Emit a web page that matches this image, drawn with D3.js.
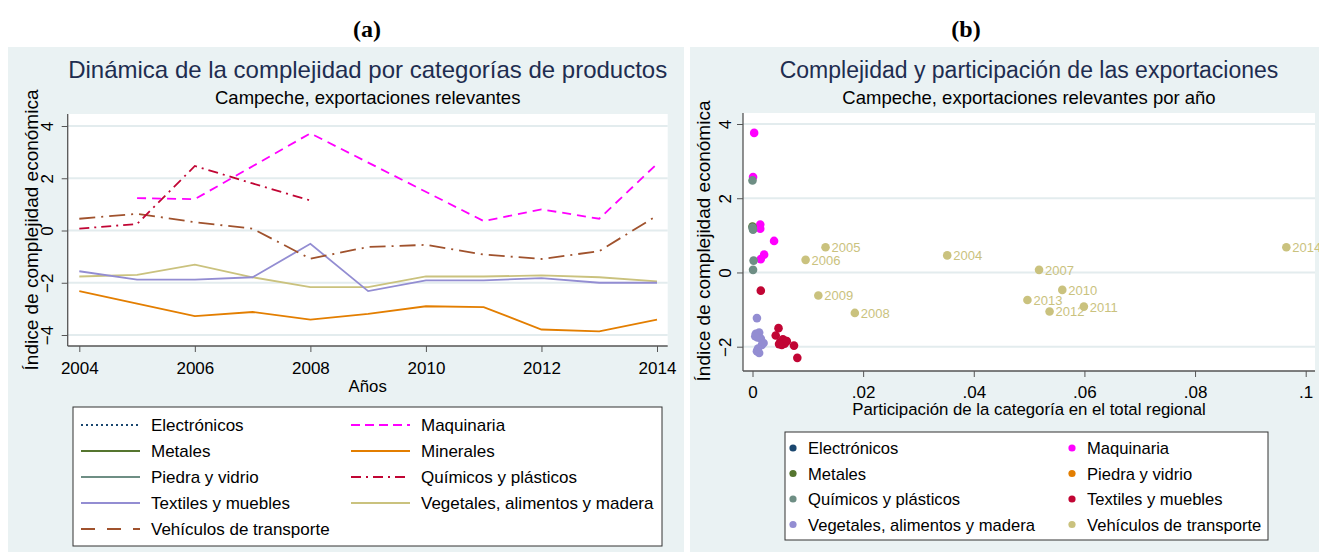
<!DOCTYPE html>
<html>
<head>
<meta charset="utf-8">
<script src="https://cdn.jsdelivr.net/npm/d3@7"></script>
<style>
  body { margin: 0; background: #fff; }
  text { font-family: "Liberation Sans", Arial, sans-serif; }
</style>
</head>
<body>
<svg id="chart" width="1319" height="552"></svg>
<script>
// ---- panel (a): ICE by year and category (null = no data that year)
var years = [2004, 2005, 2006, 2007, 2008, 2009, 2010, 2011, 2012, 2013, 2014];
var lineNames = ["Electrónicos", "Maquinaria", "Metales", "Minerales", "Piedra y vidrio",
  "Químicos y plásticos", "Textiles y muebles", "Vegetales, alimentos y madera", "Vehículos de transporte"];
var electronicos = [null, null, null, null, null, null, null, null, null, null, null];
var maquinaria = [null, 1.24, 1.20, null, 3.72, null, null, 0.36, 0.81, 0.45, 2.55];
var metales = [null, null, null, null, null, null, null, null, null, null, null];
var minerales = [-2.32, -2.80, -3.28, -3.12, -3.41, -3.19, -2.90, -2.93, -3.79, -3.86, -3.41];
var piedra = [null, null, null, null, null, null, null, null, null, null, null];
var quimicos = [0.07, 0.25, 2.47, 1.80, 1.15, null, null, null, null, null, null];
var textiles = [-1.56, -1.88, -1.88, -1.79, -0.51, -2.32, -1.91, -1.91, -1.82, -2.00, -2.00];
var vegetales = [-1.76, -1.70, -1.31, -1.79, -2.17, -2.17, -1.76, -1.76, -1.72, -1.79, -1.95];
var vehiculos = [0.45, 0.64, 0.32, 0.07, -1.08, -0.63, -0.55, -0.92, -1.09, -0.79, 0.57];
var yTicksA = [-4, -2, 0, 2, 4];
var xTicksA = [2004, 2006, 2008, 2010, 2012, 2014];

// ---- panel (b): [share of regional total, ICE]
var scatNames = ["Electrónicos", "Maquinaria", "Metales", "Piedra y vidrio",
  "Químicos y plásticos", "Textiles y muebles", "Vegetales, alimentos y madera", "Vehículos de transporte"];
var scElectronicos = [];
var scMaquinaria = [[0.0003, 3.76], [0.0001, 2.57], [0.0014, 1.29], [0.0014, 1.18], [0.0039, 0.85], [0.0021, 0.48], [0.0015, 0.36]];
var scMetales = [[0.0000, 1.24]];
var scPiedra = [];
var scQuimicos = [[0.0000, 2.48], [0.0000, 1.21], [0.0001, 1.15], [0.0002, 0.32], [0.0001, 0.07]];
var scTextiles = [[0.0047, -1.50], [0.0042, -1.70], [0.0050, -1.88], [0.0055, -1.80], [0.0015, -0.49], [0.0081, -2.30],
  [0.0058, -1.92], [0.0053, -1.95], [0.0062, -1.85], [0.0075, -1.97], [0.0048, -1.93]];
var scVegetales = [[0.0008, -1.23], [0.0006, -1.65], [0.0012, -1.62], [0.0009, -1.75], [0.0015, -1.78], [0.0020, -1.90],
  [0.0017, -1.95], [0.0010, -2.05], [0.0008, -2.12], [0.0012, -2.17], [0.0005, -1.72]];
var scVehiculos = [[0.0352, 0.46], [0.0132, 0.68], [0.0096, 0.34], [0.0518, 0.07], [0.0185, -1.09], [0.0119, -0.62],
  [0.0560, -0.47], [0.0599, -0.92], [0.0537, -1.05], [0.0497, -0.74], [0.0965, 0.68]];
var vehiculoYears = [2004, 2005, 2006, 2007, 2008, 2009, 2010, 2011, 2012, 2013, 2014];
var yTicksB = [-2, 0, 2, 4];
var xTicksB = [0, 0.02, 0.04, 0.06, 0.08, 0.1];

var bg = "#eaf2f3", grid = "#e3ecee", axisCol = "#555";
var svg = d3.select("#chart");

// panel labels
svg.append("text").attr("x", 367).attr("y", 37).attr("text-anchor", "middle")
  .style("font-family", "'Liberation Serif', 'Times New Roman', serif").style("font-weight", "bold").style("font-size", "24px").text("(a)");
svg.append("text").attr("x", 966).attr("y", 37).attr("text-anchor", "middle")
  .style("font-family", "'Liberation Serif', 'Times New Roman', serif").style("font-weight", "bold").style("font-size", "24px").text("(b)");

// backgrounds
svg.append("rect").attr("x", 8).attr("y", 47).attr("width", 676).attr("height", 505).attr("fill", bg);
svg.append("rect").attr("x", 690).attr("y", 47).attr("width", 629).attr("height", 505).attr("fill", bg);

function frame(g, box, x, y, yTicks, xTicks, xFmt, tickOff, opts) {
  g.append("rect").attr("x", box.l).attr("y", box.t).attr("width", box.r - box.l).attr("height", box.b - box.t).attr("fill", "#fff");
  g.selectAll(".grid").data(yTicks).enter().append("line")
    .attr("x1", box.l).attr("x2", box.r).attr("y1", function(d){ return y(d); }).attr("y2", function(d){ return y(d); })
    .attr("stroke", grid).attr("stroke-width", 2);
  var ya = g.append("g").attr("transform", "translate(" + box.l + ",0)")
    .call(d3.axisLeft(y).tickValues(yTicks).tickFormat(d3.format("d")).tickSize(6).tickSizeOuter(0));
  ya.select(".domain").remove();
  ya.selectAll("line").attr("stroke", axisCol);
  ya.selectAll("text").attr("x", null).attr("dy", null).attr("text-anchor", "middle")
    .attr("transform", "translate(" + tickOff + ",0) rotate(-90)")
    .style("font-size", "17px").attr("fill", "#000");
  var xa = g.append("g").attr("transform", "translate(0," + box.b + ")")
    .call(d3.axisBottom(x).tickValues(xTicks).tickFormat(xFmt).tickSize(6).tickSizeOuter(0));
  xa.select(".domain").remove();
  xa.selectAll("line").attr("stroke", axisCol);
  xa.selectAll("text").attr("y", opts.xLabY).attr("dy", null).style("font-size", "17px").attr("fill", "#000");
  g.append("line").attr("x1", box.l).attr("x2", box.l).attr("y1", box.t).attr("y2", box.b).attr("stroke", axisCol).attr("stroke-width", 1.3);
  g.append("line").attr("x1", box.l).attr("x2", box.r).attr("y1", box.b).attr("y2", box.b).attr("stroke", axisCol).attr("stroke-width", 1.3);
  var cx = (box.l + box.r) / 2;
  g.append("text").attr("x", cx).attr("y", 78).attr("text-anchor", "middle").style("font-size", opts.titleSize).attr("fill", "#1e2d50").text(opts.title);
  g.append("text").attr("x", cx).attr("y", 104).attr("text-anchor", "middle").style("font-size", "18.5px").attr("fill", "#000").text(opts.subtitle);
  g.append("text").attr("transform", "translate(" + opts.yTitleX + "," + opts.yTitleY + ") rotate(-90)")
    .attr("text-anchor", "middle").style("font-size", "19px").attr("fill", "#000").text("Índice de complejidad económica");
  g.append("text").attr("x", cx).attr("y", opts.xTitleY).attr("text-anchor", "middle").style("font-size", "16.8px").attr("fill", "#000").text(opts.xTitle);
}

// ---------- panel (a)
var boxA = { l: 67.7, r: 667.7, t: 114, b: 346 };
var xA = d3.scaleLinear().domain([2004, 2014]).range([79.3, 657]);
var yA = d3.scaleLinear().domain([-4, 4]).range([335, 126]);
var gA = svg.append("g");
frame(gA, boxA, xA, yA, yTicksA, xTicksA, d3.format("d"), -15, {
  title: "Dinámica de la complejidad por categorías de productos", titleSize: "24px",
  subtitle: "Campeche, exportaciones relevantes",
  yTitleX: 38, yTitleY: 230, xTitle: "Años", xTitleY: 392, xLabY: 28
});

var lineSeries = [electronicos, maquinaria, metales, minerales, piedra, quimicos, textiles, vegetales, vehiculos];
var lineColors = ["#1a476f", "#ff00ff", "#55752f", "#e37e00", "#6e8e84", "#c10534", "#938dd2", "#cac27e", "#a0522d"];
var lineDash = ["2,3", "9,6", null, null, null, "10,5,2,5", null, null, "16,6,2,6"];
var legendDash = ["2,3", "9,5", null, null, null, "10,5,2,5", null, null, "14,12"];
var line = d3.line().x(function(d){ return xA(d[0]); }).y(function(d){ return yA(d[1]); });
var drawOrder = [0, 2, 4, 3, 7, 6, 8, 5, 1];
drawOrder.forEach(function(i) {
  var pts = years.map(function(yr, k){ return [yr, lineSeries[i][k]]; }).filter(function(d){ return d[1] != null; });
  if (pts.length < 2) return;
  gA.append("path").datum(pts).attr("d", line).attr("fill", "none")
    .attr("stroke", lineColors[i]).attr("stroke-width", 1.8).attr("stroke-dasharray", lineDash[i]);
});

// legend (a)
var legA = svg.append("g");
legA.append("rect").attr("x", 73).attr("y", 407).attr("width", 589).attr("height", 139).attr("fill", "#fff").attr("stroke", "#333").attr("stroke-width", 1);
lineNames.forEach(function(n, i) {
  var col = i % 2, row = Math.floor(i / 2);
  var lx = col === 0 ? 81 : 351, ty = 425 + row * 26;
  legA.append("line").attr("x1", lx).attr("x2", lx + 59).attr("y1", ty).attr("y2", ty)
    .attr("stroke", lineColors[i]).attr("stroke-width", 1.8).attr("stroke-dasharray", legendDash[i]);
  legA.append("text").attr("x", lx + 70).attr("y", ty + 6).style("font-size", "17px").attr("fill", "#000").text(n);
});

// ---------- panel (b)
var boxB = { l: 743, r: 1315, t: 113, b: 371 };
var xB = d3.scaleLinear().domain([0, 0.1]).range([752.5, 1305.7]);
var yB = d3.scaleLinear().domain([-2, 4]).range([346.7, 124]);
var gB = svg.append("g");
var fmtB = function(d){ return d === 0 ? "0" : d3.format(".2~f")(d).replace(/^0/, ""); };
frame(gB, boxB, xB, yB, yTicksB, xTicksB, fmtB, -12, {
  title: "Complejidad y participación de las exportaciones", titleSize: "23px",
  subtitle: "Campeche, exportaciones relevantes por año",
  yTitleX: 710, yTitleY: 241, xTitle: "Participación de la categoría en el total regional", xTitleY: 415, xLabY: 27
});

var scatSeries = [scElectronicos, scMaquinaria, scMetales, scPiedra, scQuimicos, scTextiles, scVegetales, scVehiculos];
var scatColors = ["#1a476f", "#ff00ff", "#55752f", "#e37e00", "#6e8e84", "#c10534", "#938dd2", "#cac27e"];
scatSeries.forEach(function(s, i) {
  gB.selectAll(".p" + i).data(s).enter().append("circle")
    .attr("cx", function(d){ return xB(d[0]); }).attr("cy", function(d){ return yB(d[1]); })
    .attr("r", 4.3).attr("fill", scatColors[i]);
});
gB.selectAll(".lab").data(scVehiculos).enter().append("text")
  .attr("x", function(d){ return xB(d[0]) + 6; }).attr("y", function(d){ return yB(d[1]) + 5; })
  .style("font-size", "13px").attr("fill", scatColors[7])
  .text(function(d, i){ return vehiculoYears[i]; });

// legend (b)
var legB = svg.append("g");
legB.append("rect").attr("x", 785).attr("y", 432).attr("width", 483).attr("height", 108).attr("fill", "#fff").attr("stroke", "#333").attr("stroke-width", 1);
scatNames.forEach(function(n, i) {
  var col = i % 2, row = Math.floor(i / 2);
  var mx = col === 0 ? 793 : 1072, ty = 448 + row * 25.5;
  legB.append("circle").attr("cx", mx).attr("cy", ty).attr("r", 3.6).attr("fill", scatColors[i]);
  legB.append("text").attr("x", mx + 15).attr("y", ty + 6).style("font-size", "16.6px").attr("fill", "#000").text(n);
});
</script>
</body>
</html>
